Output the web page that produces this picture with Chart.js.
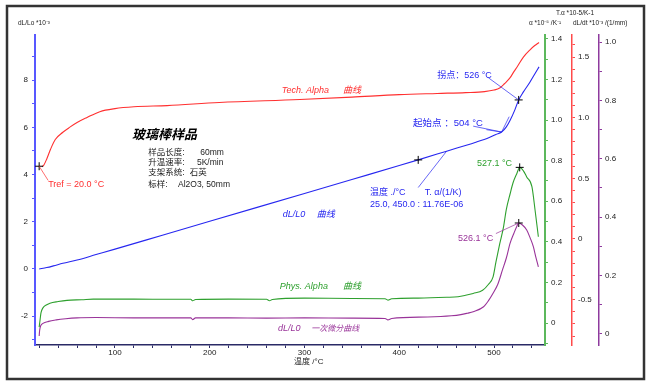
<!DOCTYPE html>
<html>
<head>
<meta charset="utf-8">
<script src="https://cdn.jsdelivr.net/npm/chart.js@4.4.0/dist/chart.umd.min.js"></script>
<style>
  body { margin: 0; background: #fff; }
  #wrap { width: 650px; height: 387px; }
</style>
</head>
<body>
<div id="wrap"><canvas id="dilChart" width="650" height="387"></canvas></div>
<script>
const FONT = "'Liberation Sans', 'Noto Sans CJK SC', sans-serif";

// dL/L0 curve, left axis (*10^-3)
const tempDL = [20, 28, 35, 45, 60, 80, 100, 150, 200, 250, 300, 350, 400, 420, 450, 480, 495, 502, 508, 513, 517, 522, 526, 531, 538, 543, 547.5];
const dLL0 = [0, 0.06, 0.13, 0.24, 0.38, 0.61, 0.84, 1.43, 2.02, 2.61, 3.2, 3.79, 4.38, 4.62, 4.99, 5.36, 5.57, 5.7, 5.8, 6.02, 6.3, 6.74, 7.16, 7.5, 7.92, 8.26, 8.56];

// Tech. Alpha, red axis
const tempTech = [23, 25, 28, 32, 37, 45, 52, 60, 70, 84, 100, 120, 155, 210, 295, 350, 400, 440, 470, 490, 500, 506, 511, 517, 521, 524.5, 531, 538, 543, 547.5];
const techAlpha = [0.595, 0.61, 0.66, 0.74, 0.82, 0.88, 0.92, 0.96, 1.0, 1.05, 1.075, 1.09, 1.1, 1.125, 1.15, 1.17, 1.19, 1.2, 1.207, 1.215, 1.228, 1.245, 1.28, 1.33, 1.38, 1.42, 1.5, 1.56, 1.595, 1.62];

// Phys. Alpha, green axis
const tempPhys = [20, 20.8, 21.9, 24, 28, 31.4, 40, 49.3, 65, 77, 120, 160, 180, 182, 185, 220, 260, 263, 266, 300, 350, 385, 388, 392, 420, 450, 462, 470, 478, 488, 494, 499, 502, 506, 510, 513, 517, 520, 524, 527.1, 531, 534.5, 540, 543.3, 546.8];
const physAlpha = [-0.02, 0.01, 0.05, 0.075, 0.09, 0.098, 0.106, 0.112, 0.115, 0.118, 0.118, 0.117, 0.117, 0.11, 0.116, 0.118, 0.117, 0.11, 0.116, 0.123, 0.121, 0.12, 0.113, 0.12, 0.123, 0.127, 0.13, 0.137, 0.146, 0.162, 0.19, 0.228, 0.3, 0.39, 0.473, 0.56, 0.637, 0.69, 0.736, 0.767, 0.75, 0.72, 0.672, 0.557, 0.425];

// dL/L0 first derivative, purple axis
const tempD1 = [20, 20.5, 21.5, 24, 30, 38, 48, 60, 80, 120, 160, 180, 182, 185, 220, 260, 300, 350, 385, 388, 392, 430, 455, 465, 472, 478, 489, 494, 499, 504, 509, 513, 517, 521, 524, 526.1, 530, 534.5, 538, 541.5, 544, 546.8];
const deriv1 = [-0.007, 0.012, 0.027, 0.036, 0.043, 0.048, 0.052, 0.055, 0.056, 0.055, 0.055, 0.055, 0.049, 0.055, 0.055, 0.054, 0.055, 0.054, 0.053, 0.048, 0.053, 0.058, 0.062, 0.066, 0.071, 0.076, 0.093, 0.113, 0.139, 0.17, 0.22, 0.26, 0.311, 0.345, 0.368, 0.38, 0.373, 0.356, 0.33, 0.299, 0.265, 0.23];

// marked points
const markDL = [{x: 420, y: 4.62}, {x: 526, y: 7.16}];
const markTech = [{x: 20, y: 0.6}];
const markPhys = [{x: 527.1, y: 0.767}];
const markD1 = [{x: 526.1, y: 0.38}];

const pts = (xs, ys) => xs.map((x, i) => ({x: x, y: ys[i]}));

const BLUE = '#2727f0', RED = '#ff3030', GREEN = '#2ea02e', PURPLE = '#993399';

// texts placed at (°C, left-axis value)
const notes = [
  {t: 'Tech. Alpha', x: 276, y: 7.58, c: RED, f: 'italic 9px'},
  {t: '曲线', x: 340.5, y: 7.58, c: RED, f: 'italic 9px'},
  {t: '拐点：526 °C', x: 440, y: 8.21, c: BLUE, f: '9px'},
  {t: '起始点 ：504 °C', x: 414.5, y: 6.18, c: BLUE, f: '9.5px'},
  {t: '温度 ./°C', x: 369, y: 3.22, c: BLUE, f: '9px'},
  {t: 'T. α/(1/K)', x: 427, y: 3.22, c: BLUE, f: '9px'},
  {t: '25.0, 450.0 : 11.76E-06', x: 369, y: 2.75, c: BLUE, f: '9px'},
  {t: 'dL/L0', x: 277, y: 2.29, c: BLUE, f: 'italic 9px'},
  {t: '曲线', x: 313, y: 2.29, c: BLUE, f: 'italic 9px'},
  {t: 'Phys. Alpha', x: 274, y: -0.76, c: GREEN, f: 'italic 9px'},
  {t: '曲线', x: 340.5, y: -0.76, c: GREEN, f: 'italic 9px'},
  {t: 'dL/L0', x: 272, y: -2.54, c: PURPLE, f: 'italic 9px'},
  {t: '一次微分曲线', x: 307, y: -2.54, c: PURPLE, f: 'italic 8px'},
  {t: '527.1 °C', x: 482, y: 4.45, c: GREEN, f: '9px'},
  {t: '526.1 °C', x: 462, y: 1.31, c: PURPLE, f: '9px'},
  {t: 'Tref = 20.0 °C', x: 29.5, y: 3.56, c: RED, f: '9px'},
  {t: '玻璃棒样品', x: 118, y: 5.67, c: '#000', f: 'italic bold 13px'},
  {t: '样品长度:', x: 135, y: 4.91, c: '#222', f: '8.5px'},
  {t: '60mm', x: 190, y: 4.91, c: '#222', f: '8.5px'},
  {t: '升温速率:', x: 135, y: 4.49, c: '#222', f: '8.5px'},
  {t: '5K/min', x: 186.5, y: 4.49, c: '#222', f: '8.5px'},
  {t: '支架系统:', x: 135, y: 4.06, c: '#222', f: '8.5px'},
  {t: '石英', x: 179, y: 4.06, c: '#222', f: '8.5px'},
  {t: '标样:', x: 135, y: 3.56, c: '#222', f: '8.5px'},
  {t: 'Al2O3, 50mm', x: 166.5, y: 3.56, c: '#222', f: '8.5px'}
];

const decor = {
  id: 'decor',
  beforeDraw(chart) {
    const ctx = chart.ctx;
    ctx.save();
    ctx.fillStyle = '#fff';
    ctx.fillRect(0, 0, chart.width, chart.height);
    ctx.restore();
  },
  afterDatasetsDraw(chart) {
    const ctx = chart.ctx;
    const X = chart.scales.x, L = chart.scales.yL;
    const px = v => X.getPixelForValue(v);
    const at = (s, x, y) => [px(x), chart.scales[s].getPixelForValue(y)];
    const line = (a, b, col) => {
      ctx.beginPath(); ctx.moveTo(a[0], a[1]); ctx.lineTo(b[0], b[1]);
      ctx.strokeStyle = col; ctx.lineWidth = 0.7; ctx.stroke();
    };
    ctx.save();
    // leader lines
    line(at('yRed', markTech[0].x, markTech[0].y), at('yL', 29.5, 3.75), RED);
    line(at('yL', 494, 8.1), at('yL', markDL[1].x, markDL[1].y), BLUE);
    line(at('yL', 478, 6.05), at('yL', 508, 5.8), BLUE);
    line(at('yL', 492, 5.9), at('yL', 508, 5.8), BLUE);
    line(at('yL', 508, 5.8), at('yL', 516, 6.45), BLUE);
    line(at('yL', 420, 3.45), at('yL', 450, 4.99), BLUE);
    line(at('yL', 502, 1.5), at('yPurple', markD1[0].x, markD1[0].y), PURPLE);
    // texts
    ctx.textBaseline = 'middle';
    ctx.textAlign = 'left';
    notes.forEach(n => {
      ctx.font = n.f + ' ' + FONT;
      ctx.fillStyle = n.c;
      ctx.fillText(n.t, px(n.x), L.getPixelForValue(n.y));
    });
    // axis captions
    const a = chart.chartArea;
    ctx.font = '6.5px ' + FONT;
    ctx.fillStyle = '#222';
    ctx.fillText('dL/Lo *10⁻³', 18, a.top - 12);
    ctx.fillText('T.α *10-5/K-1', 556, a.top - 22);
    ctx.fillText('α *10⁻⁵ /K⁻¹', 529, a.top - 12);
    ctx.fillText('dL/dt *10⁻³ /(1/mm)', 573, a.top - 12);
    ctx.font = '8px ' + FONT;
    ctx.fillText('温度 /°C', px(289), a.bottom + 17);
    ctx.restore();
  },
  afterDraw(chart) {
    const ctx = chart.ctx;
    ctx.save();
    ctx.strokeStyle = '#333';
    ctx.lineWidth = 2.5;
    ctx.strokeRect(7, 6, 637, 373);
    ctx.restore();
  }
};

const lab = (v, every) => {
  const k = Math.round(v * 10);
  if (k % every !== 0) return '';
  return k === 0 ? '0' : (k / 10).toFixed(1);
};

const yAxis = (col, min, max, step, cb, width, weight, bw) => ({
  type: 'linear',
  position: 'right',
  weight: weight,
  min: min, max: max,
  afterFit: s => { s.width = width; },
  border: {color: col, width: bw},
  grid: {drawOnChartArea: false, color: col, tickLength: 3, tickWidth: 1},
  ticks: {stepSize: step, autoSkip: false, includeBounds: false, padding: 3,
    color: '#222', font: {size: 8, family: FONT}, callback: cb}
});

const lineSet = (label, data, col, axis) => ({
  label: label, data: data, yAxisID: axis,
  borderColor: col, borderWidth: 1.1, pointRadius: 0,
  cubicInterpolationMode: 'monotone', fill: false
});
const markSet = (data, axis) => ({
  data: data, yAxisID: axis, showLine: false,
  pointStyle: 'cross', pointRadius: 4, borderColor: '#000', borderWidth: 1
});

new Chart(document.getElementById('dilChart'), {
  type: 'line',
  data: {
    datasets: [
      markSet(markDL, 'yL'),
      markSet(markTech, 'yRed'),
      markSet(markPhys, 'yGreen'),
      markSet(markD1, 'yPurple'),
      lineSet('dL/L0', pts(tempDL, dLL0), BLUE, 'yL'),
      lineSet('Tech. Alpha', pts(tempTech, techAlpha), RED, 'yRed'),
      lineSet('Phys. Alpha', pts(tempPhys, physAlpha), GREEN, 'yGreen'),
      lineSet('dL/L0 一次微分', pts(tempD1, deriv1), PURPLE, 'yPurple')
    ]
  },
  options: {
    responsive: false,
    animation: false,
    devicePixelRatio: 1,
    layout: {padding: {left: 0, top: 35, right: 11, bottom: 22}},
    plugins: {legend: {display: false}, tooltip: {enabled: false}},
    scales: {
      x: {
        type: 'linear',
        min: 15.6, max: 553.8,
        afterFit: s => { s.height = 20; },
        border: {color: '#2a2a66', width: 1.5},
        grid: {drawOnChartArea: false, color: '#2a2a66', tickLength: 3},
        ticks: {stepSize: 20, autoSkip: false, includeBounds: false, padding: 0, maxRotation: 0,
          color: '#222', font: {size: 8, family: FONT},
          callback: v => (v % 100 === 0 ? String(v) : '')}
      },
      yL: {
        type: 'linear',
        position: 'left',
        min: -3.22, max: 9.91,
        afterFit: s => { s.width = 35; },
        border: {color: '#5858ff', width: 2},
        grid: {drawOnChartArea: false, color: '#5858ff', tickLength: 3},
        ticks: {stepSize: 1, autoSkip: false, includeBounds: false, padding: 4,
          color: '#222', font: {size: 8, family: FONT},
          callback: v => (Math.round(v) % 2 === 0 ? String(v) : '')}
      },
      yGreen: yAxis('#5cb85c', -0.108, 1.419, 0.1, v => lab(v, 2), 27, 1, 2),
      yRed: yAxis('#ff4a4a', -0.874, 1.682, 0.1, v => lab(v, 5), 27, 2, 1.5),
      yPurple: yAxis('#8e3a9e', -0.038, 1.024, 0.1, v => lab(v, 2), 40, 3, 1.5)
    }
  },
  plugins: [decor]
});
</script>
</body>
</html>
